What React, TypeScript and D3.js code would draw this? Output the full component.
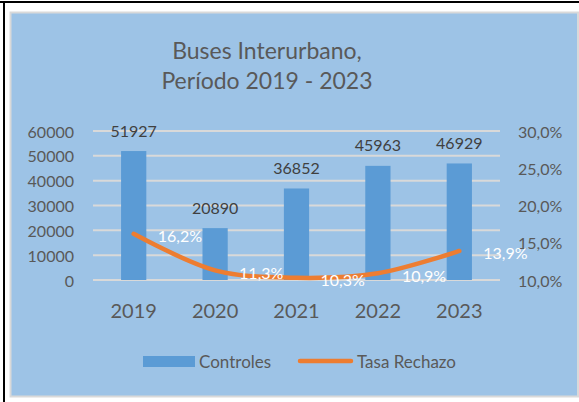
import React from "react";
import * as d3 from "d3";

const years = ["2019", "2020", "2021", "2022", "2023"];
const controles = [51927, 20890, 36852, 45963, 46929];
const tasaRechazo = [0.162, 0.113, 0.103, 0.109, 0.139];
const titleLines = ["Buses Interurbano,", "Período 2019 - 2023"];
const seriesNames = ["Controles", "Tasa Rechazo"];

const FONT = "Lato, 'Open Sans', sans-serif";
const GRAY = "#595959";

export default function App() {
  const W = 579, H = 402;
  const x = d3.scaleBand<string>().domain(years).range([93, 500]).padding(0);
  const yL = d3.scaleLinear().domain([0, 60000]).range([280, 131]);
  const yR = d3.scaleLinear().domain([0.1, 0.3]).range([280, 131]);
  const barW = x.bandwidth() * 0.31;
  const cx = (d: string) => (x(d) as number) + x.bandwidth() / 2;
  const fmtPct = (v: number) => (v * 100).toFixed(1).replace(".", ",") + "%";

  const line = d3
    .line<number>()
    .x((_, i) => cx(years[i]))
    .y((d) => yR(d))
    .curve(d3.curveCatmullRom.alpha(0.5));

  return (
    <div style={{ position: "absolute", left: 0, top: 0 }}>
      <svg width={W} height={H} style={{ display: "block", fontFamily: FONT }}>
        <rect x={0} y={0} width={W} height={H} fill="#ffffff" />
        <rect x={0} y={1} width={W} height={2} fill="#000" />
        <rect x={3} y={1} width={2} height={H} fill="#000" />
        <rect x={10.5} y={12.5} width={567.5} height={384} fill="#9DC3E6" stroke="#d9d9d9" strokeWidth={2} />

        {titleLines.map((t, i) => (
          <text key={t} x={267} y={50 + i * 30} textAnchor="middle" dominantBaseline="central" fontSize={23} fill={GRAY}>
            {t}
          </text>
        ))}

        {yL.ticks(6).map((t) => (
          <g key={t}>
            <line x1={93} x2={500} y1={yL(t)} y2={yL(t)} stroke="#d9d9d9" strokeWidth={2} />
            <text x={74} y={yL(t)} textAnchor="end" dominantBaseline="central" fontSize={16} fill={GRAY}>
              {t}
            </text>
          </g>
        ))}

        {yR.ticks(4).map((t) => (
          <text key={t} x={518} y={yR(t)} textAnchor="start" dominantBaseline="central" fontSize={16} fill={GRAY}>
            {fmtPct(t)}
          </text>
        ))}

        {years.map((y, i) => (
          <g key={y}>
            <rect
              x={cx(y) - barW / 2}
              y={yL(controles[i])}
              width={barW}
              height={yL(0) - yL(controles[i])}
              fill="#5B9BD5"
            />
            <text x={cx(y)} y={yL(controles[i]) - 21} textAnchor="middle" dominantBaseline="central" fontSize={16} fill="#404040">
              {controles[i]}
            </text>
            <text x={cx(y)} y={310} textAnchor="middle" dominantBaseline="central" fontSize={20} fill={GRAY}>
              {y}
            </text>
          </g>
        ))}

        <path d={line(tasaRechazo) || ""} fill="none" stroke="#ED7D31" strokeWidth={4.5} strokeLinecap="round" />

        {years.map((y, i) => (
          <text key={y} x={cx(y) + 24} y={yR(tasaRechazo[i]) + 2} textAnchor="start" dominantBaseline="central" fontSize={16} fill="#ffffff">
            {fmtPct(tasaRechazo[i])}
          </text>
        ))}

        <rect x={143} y={356} width={52} height={11} fill="#5B9BD5" />
        <text x={199} y={361.5} dominantBaseline="central" fontSize={17} fill={GRAY}>
          {seriesNames[0]}
        </text>
        <line x1={300} x2={351} y1={361} y2={361} stroke="#ED7D31" strokeWidth={4.5} strokeLinecap="round" />
        <text x={357} y={361.5} dominantBaseline="central" fontSize={17} fill={GRAY}>
          {seriesNames[1]}
        </text>
      </svg>
    </div>
  );
}
